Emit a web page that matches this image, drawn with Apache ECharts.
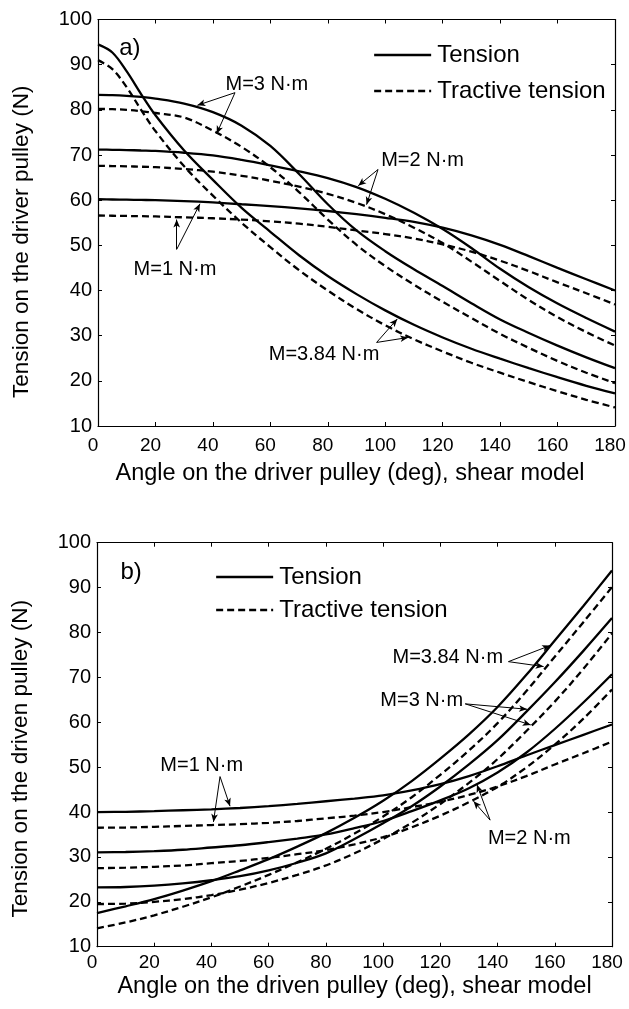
<!DOCTYPE html>
<html><head><meta charset="utf-8">
<script src="https://cdn.jsdelivr.net/npm/echarts@6/dist/echarts.min.js"></script>
<style>html,body{margin:0;padding:0;background:#fff}#c{width:629px;height:1009px}</style>
</head><body><div id="c"></div><script>
// ---------- data ----------
const xTickLabels = [0, 20, 40, 60, 80, 100, 120, 140, 160, 180];
const yTickLabels = [10, 20, 30, 40, 50, 60, 70, 80, 90, 100];
const legendNames = ['Tension', 'Tractive tension'];

// (a) driver pulley
const angleTop = [0, 5, 10, 15, 20, 30, 40, 50, 60, 70, 80, 90, 100, 110, 120, 130, 140, 150, 160, 170, 180];
const topM1T   = [60.2, 60.15, 60.1, 60.05, 60, 59.8, 59.5, 59.1, 58.7, 58.2, 57.6, 56.9, 56.1, 55.2, 53.9, 52.2, 50.1, 47.6, 45, 42.5, 40];
const topM1TT  = [56.6, 56.55, 56.5, 56.45, 56.4, 56.2, 56, 55.7, 55.3, 54.8, 54.1, 53.3, 52.5, 51.5, 50.2, 48.6, 46.6, 44.3, 41.8, 39.4, 36.9];
const topM2T   = [71.2, 71.15, 71.1, 71, 70.9, 70.5, 69.9, 68.9, 67.7, 66.4, 64.9, 62.9, 60.3, 57.2, 53.6, 49.4, 44.8, 40.7, 37.1, 33.9, 30.9];
const topM2TT  = [67.6, 67.55, 67.5, 67.4, 67.3, 66.9, 66.3, 65.4, 64.3, 63, 61.4, 59.4, 56.9, 53.9, 50.5, 46.4, 42.1, 37.9, 34.1, 30.8, 27.8];
const topM3T   = [83.3, 83.25, 83.1, 82.85, 82.5, 81.4, 79.5, 76.5, 72, 65.8, 59.1, 53.3, 48.7, 44.7, 41, 37.2, 33.6, 30.6, 27.8, 25.2, 22.8];
const topM3TT  = [80.2, 80.15, 80, 79.7, 79.3, 78.3, 75.4, 71.8, 67.3, 61.8, 55.7, 50.1, 45.4, 41.3, 37.5, 33.9, 30.4, 27.3, 24.4, 21.8, 19.5];
const topM384T = [94.5, 92.7, 88.5, 83.5, 78.8, 71, 64.5, 58.3, 53, 47.8, 43.2, 39.2, 35.6, 32.4, 29.6, 27.1, 24.9, 22.8, 20.8, 18.9, 17.2];
const topM384TT= [91, 89, 85, 80, 75.3, 67.5, 61, 55, 49.6, 44.5, 40, 35.9, 32.3, 29.2, 26.5, 24, 21.8, 19.7, 17.7, 15.8, 14.1];

// (b) driven pulley
const angleBot = [0, 10, 20, 30, 40, 50, 60, 70, 80, 90, 100, 110, 120, 130, 140, 150, 160, 170, 180];
const botM1T   = [40, 40.05, 40.2, 40.4, 40.6, 40.9, 41.3, 41.8, 42.4, 43, 43.7, 44.8, 46.2, 48, 50.2, 52.6, 54.9, 57.2, 59.5];
const botM1TT  = [36.5, 36.55, 36.7, 36.9, 37.1, 37.3, 37.6, 38, 38.6, 39.2, 40, 41.1, 42.3, 43.8, 45.7, 48, 50.6, 53.1, 55.7];
const botM2T   = [31, 31.1, 31.3, 31.6, 32.1, 32.6, 33.3, 34.1, 35, 36.4, 38, 40.2, 42.6, 45.3, 48.8, 53.2, 58.5, 64.4, 70.7];
const botM2TT  = [27.5, 27.6, 27.8, 28.1, 28.6, 29.1, 29.8, 30.6, 31.5, 32.8, 34.4, 36.6, 39.2, 42.2, 45.6, 49.9, 55, 60.8, 67.3];
const botM3T   = [23.2, 23.3, 23.6, 24.1, 24.8, 25.7, 27, 28.7, 30.8, 34, 37.5, 41.3, 45.7, 50.6, 56, 62.3, 68.9, 75.9, 83.2];
const botM3TT  = [19.5, 19.6, 20, 20.6, 21.5, 22.7, 24.2, 26, 28.1, 30.8, 34, 37.6, 41.8, 46.5, 51.8, 58, 64.6, 71.9, 79.8];
const botM384T = [17.5, 19, 20.6, 22.5, 24.6, 27, 29.5, 32.3, 35.3, 38.7, 42.5, 46.9, 51.9, 57.3, 63.4, 70.5, 78.2, 85.9, 93.8];
const botM384TT= [14.1, 15.4, 17, 18.9, 21, 23.4, 26, 28.8, 31.8, 35.2, 39, 43.3, 48.3, 53.7, 59.8, 66.9, 74.6, 82.3, 90.1];

// annotation texts and arrows (in data coordinates)
const topTexts = [
  ['a)', 11.1, 93.6, 24], ['M=3 N\u00b7m', 58.8, 85.6, 20], ['M=2 N\u00b7m', 113, 68.7, 20],
  ['M=1 N\u00b7m', 26.8, 44.6, 20], ['M=3.84 N\u00b7m', 78.7, 25.9, 20]
];
const topArrows = [
  [[47.7, 83.8], [34.6, 81.0]], [[47.7, 83.8], [41.3, 74.7]],
  [[97.5, 66.8], [90.6, 63.2]], [[97.5, 66.8], [93.5, 59.0]],
  [[27.4, 49.1], [27.4, 55.7]], [[27.4, 49.1], [35.5, 59.2]],
  [[97.0, 28.5], [104.2, 33.7]], [[97.0, 28.5], [108.0, 29.6]]
];
const botTexts = [
  ['b)', 11.9, 93.5, 24], ['M=1 N\u00b7m', 36.6, 50.4, 20], ['M=2 N\u00b7m', 151.1, 34.0, 20],
  ['M=3 N\u00b7m', 113.5, 64.8, 20], ['M=3.84 N\u00b7m', 122.6, 74.4, 20]
];
const botArrows = [
  [[43.0, 47.9], [46.5, 41.3]], [[43.0, 47.9], [40.7, 37.8]],
  [[137.4, 38.2], [132.8, 46.1]], [[137.4, 38.2], [131.6, 42.4]],
  [[128.7, 64.1], [150.3, 62.9]], [[128.7, 64.1], [151.6, 59.4]],
  [[143.8, 73.5], [158.4, 77.1]], [[143.8, 73.5], [156.1, 72.4]]
];

// ---------- chart ----------
const FONT = '"Liberation Sans", Arial, Helvetica, sans-serif';
const NB = '\u00a0';
const chart = echarts.init(document.getElementById('c'), null, {renderer: 'canvas'});
const xMin = xTickLabels[0], xMax = xTickLabels[xTickLabels.length - 1], xInt = xTickLabels[1] - xTickLabels[0];
const yMin = yTickLabels[0], yMax = yTickLabels[yTickLabels.length - 1], yInt = yTickLabels[1] - yTickLabels[0];

function xAxes(gridIndex, name, gap, labelMargin) {
  const base = {
    type: 'value', gridIndex, min: xMin, max: xMax, interval: xInt,
    splitLine: {show: false},
    axisLine: {show: true, onZero: false, lineStyle: {color: '#000', width: 1.2}},
    axisTick: {show: true, inside: true, length: 4, lineStyle: {color: '#000'}}
  };
  return [
    Object.assign({}, base, {
      position: 'bottom', name, nameLocation: 'middle', nameGap: gap,
      nameTextStyle: {fontSize: 23.5, color: '#000', fontFamily: FONT},
      axisLabel: {show: true, margin: labelMargin, fontSize: 19, color: '#000', fontFamily: FONT, padding: [0, 10, 0, 0]}
    }),
    Object.assign({}, base, {position: 'top', axisLabel: {show: false}})
  ];
}
function yAxes(gridIndex, name, spacer) {
  const base = {
    type: 'value', gridIndex, min: yMin, max: yMax, interval: yInt,
    splitLine: {show: false},
    axisLine: {show: true, onZero: false, lineStyle: {color: '#000', width: 1.2}},
    axisTick: {show: true, inside: true, length: 4, lineStyle: {color: '#000'}}
  };
  return [
    Object.assign({}, base, {
      position: 'left', name: '{t|' + name + '}{s|' + NB + '}', nameLocation: 'middle', nameGap: 65,
      nameTextStyle: {
        fontSize: 22.6, color: '#000', fontFamily: FONT,
        rich: {
          t: {fontSize: 22.6, color: '#000', fontFamily: FONT},
          s: {fontSize: 22.6, width: spacer}
        }
      },
      axisLabel: {show: true, margin: 6, fontSize: 20, color: '#000', fontFamily: FONT}
    }),
    Object.assign({}, base, {position: 'right', axisLabel: {show: false}})
  ];
}

function mkSeries(angles, vals, dashed, xi, yi) {
  return {
    type: 'line', name: dashed ? legendNames[1] : legendNames[0],
    xAxisIndex: xi, yAxisIndex: yi,
    data: angles.map((a, i) => [a, vals[i]]),
    showSymbol: false, symbol: 'none', smooth: 0.35,
    lineStyle: {color: '#000', width: 2.3, type: dashed ? [7, 4] : 'solid'},
    itemStyle: {color: '#000'},
    emphasis: {disabled: true}, silent: true, animation: false, z: 3
  };
}
function annotSeries(texts, arrows, xi, yi) {
  return {
    type: 'line', name: 'annot', xAxisIndex: xi, yAxisIndex: yi, data: [],
    silent: true, animation: false, z: 5,
    markPoint: {
      symbol: 'rect', symbolSize: 1, silent: true, animation: false,
      itemStyle: {color: 'rgba(0,0,0,0)'},
      data: texts.map(t => ({
        name: t[0], coord: [t[1], t[2]],
        label: {show: true, position: 'inside', color: '#000', fontSize: t[3], fontFamily: FONT, formatter: p => p.name}
      }))
    },
    markLine: {
      silent: true, animation: false, symbol: ['none', 'arrow'], symbolSize: [5, 8],
      label: {show: false},
      lineStyle: {color: '#000', width: 1, type: 'solid'},
      emphasis: {disabled: true},
      data: arrows.map(a => [{coord: a[0]}, {coord: a[1]}])
    }
  };
}

const topSets = [[topM1T, 0], [topM1TT, 1], [topM2T, 0], [topM2TT, 1], [topM3T, 0], [topM3TT, 1], [topM384T, 0], [topM384TT, 1]];
const botSets = [[botM1T, 0], [botM1TT, 1], [botM2T, 0], [botM2TT, 1], [botM3T, 0], [botM3TT, 1], [botM384T, 0], [botM384TT, 1]];

const series = [];
topSets.forEach(s => series.push(mkSeries(angleTop, s[0], s[1] === 1, 0, 0)));
botSets.forEach(s => series.push(mkSeries(angleBot, s[0], s[1] === 1, 2, 2)));
series.push(annotSeries(topTexts, topArrows, 0, 0));
series.push(annotSeries(botTexts, botArrows, 2, 2));

const legendBase = {
  orient: 'vertical', itemWidth: 57, itemHeight: 14, data: legendNames,
  selectedMode: false,
  itemStyle: {color: 'rgba(0,0,0,0)', borderColor: 'rgba(0,0,0,0)', borderWidth: 0, opacity: 0},
  lineStyle: {color: '#000', width: 2.3},
  textStyle: {fontSize: 24, color: '#000', fontFamily: FONT, padding: [0, 0, 0, 1], lineHeight: 26}
};

chart.setOption({
  animation: false,
  backgroundColor: '#fff',
  textStyle: {fontFamily: FONT},
  grid: [
    {left: 98, top: 19.5, width: 517, height: 406.5, containLabel: false},
    {left: 97, top: 542.7, width: 515, height: 404, containLabel: false}
  ],
  legend: [
    Object.assign({}, legendBase, {left: 368, top: 37, itemGap: 10}),
    Object.assign({}, legendBase, {left: 210, top: 559, itemGap: 7})
  ],
  xAxis: [].concat(
    xAxes(0, 'Angle on the driver pulley (deg), shear model' + NB + NB, 36, 10),
    xAxes(1, 'Angle on the driven pulley (deg), shear model', 28, 7)
  ),
  yAxis: [].concat(
    yAxes(0, 'Tension on the driver pulley (N)', 38),
    yAxes(1, 'Tension on the driven pulley (N)', 28)
  ),
  series
});
</script></body></html>
